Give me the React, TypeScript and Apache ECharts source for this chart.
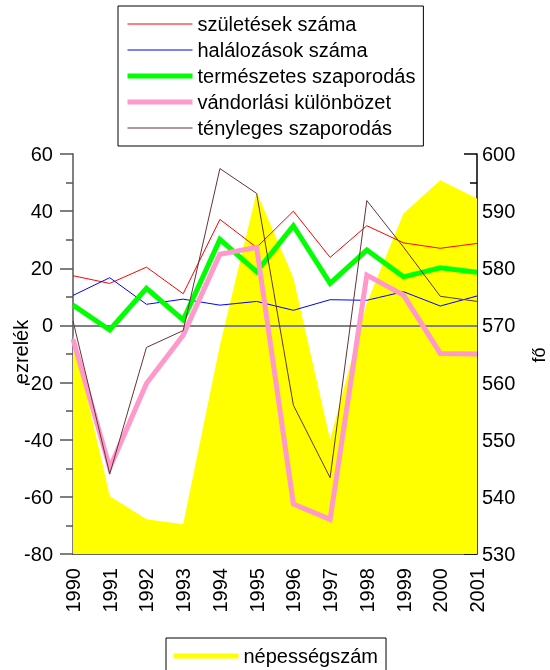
import React, { useEffect, useRef } from "react";
import * as echarts from "echarts";

const years = ["1990", "1991", "1992", "1993", "1994", "1995", "1996", "1997", "1998", "1999", "2000", "2001"];
const births = [17.4, 14.7, 20.4, 11.1, 37.1, 27.3, 40.0, 23.8, 34.9, 28.9, 27.0, 28.7];
const deaths = [10.5, 16.7, 7.4, 9.2, 7.1, 8.4, 5.3, 9.0, 8.8, 11.8, 6.8, 10.3];
const natural = [7.1, -1.6, 13.0, 1.9, 30.1, 18.8, 34.9, 14.7, 26.4, 17.0, 20.2, 18.6];
const migration = [-4.8, -49.9, -20.3, -3.4, 24.9, 27.3, -62.5, -67.9, 17.6, 10.6, -9.8, -10.0];
const actual = [1.6, -52.0, -7.7, -1.8, 54.9, 46.2, -27.9, -53.3, 43.7, 27.4, 10.2, 8.4];
const population = [568.3, 540.1, 536.1, 535.2, 566.5, 593.3, 578.3, 550.0, 573.9, 589.6, 595.4, 592.2];

const leftTicks = { min: -80, max: 60, interval: 20 };
const rightTicks = { min: 530, max: 600, interval: 10 };

const FONT = "'Liberation Sans', Arial, sans-serif";

export default function App() {
  const ref = useRef<HTMLDivElement>(null);
  useEffect(() => {
    const chart = echarts.init(ref.current!, null, { renderer: "svg" });
    const lineSeries = (name: string, data: number[], color: string, width: number) => ({
      name,
      type: "line",
      data,
      yAxisIndex: 0,
      symbol: "none",
      z: 3,
      lineStyle: { color, width, join: "miter" },
      itemStyle: { color },
    });
    const hiddenSymbol = { opacity: 0, borderWidth: 0 };
    const option: any = {
      animation: false,
      textStyle: { fontFamily: FONT, color: "#000" },
      grid: { left: 73, right: 73, top: 154, bottom: 116 },
      legend: [
        {
          orient: "vertical",
          left: 118,
          top: 6,
          itemWidth: 65,
          itemHeight: 14,
          itemGap: 6,
          padding: [8, 8, 8, 7],
          borderColor: "#000",
          borderWidth: 1,
          borderRadius: 0,
          itemStyle: hiddenSymbol,
          textStyle: { fontSize: 20, color: "#000", fontFamily: FONT },
          data: [
            { name: "születések száma", lineStyle: { width: 1 }, itemStyle: hiddenSymbol },
            { name: "halálozások száma", lineStyle: { width: 1 }, itemStyle: hiddenSymbol },
            { name: "természetes szaporodás", lineStyle: { width: 5 }, itemStyle: hiddenSymbol },
            { name: "vándorlási különbözet", lineStyle: { width: 5 }, itemStyle: hiddenSymbol },
            { name: "tényleges szaporodás", lineStyle: { width: 1 }, itemStyle: hiddenSymbol },
          ],
        },
        {
          orient: "horizontal",
          left: 166,
          top: 638,
          itemWidth: 65,
          itemHeight: 14,
          padding: [8, 8, 8, 5],
          borderColor: "#000",
          borderWidth: 1,
          borderRadius: 0,
          itemStyle: hiddenSymbol,
          textStyle: { fontSize: 20, color: "#000", fontFamily: FONT },
          data: [
            {
              name: "népességszám",
              lineStyle: { width: 5, color: "#ffff00", opacity: 1 },
              itemStyle: hiddenSymbol,
            },
          ],
        },
      ],
      xAxis: {
        type: "category",
        data: years,
        boundaryGap: false,
        axisLine: { onZero: false, lineStyle: { color: "#333", width: 1.5 } },
        axisTick: { show: false },
        axisLabel: { rotate: 90, fontSize: 20, color: "#000", margin: 14, fontFamily: FONT },
        splitLine: { show: false },
      },
      yAxis: [
        {
          type: "value",
          position: "left",
          min: leftTicks.min,
          max: leftTicks.max,
          interval: leftTicks.interval,
          axisLine: { show: true, lineStyle: { color: "#808080", width: 2 } },
          axisTick: { show: true, length: 13, lineStyle: { color: "#555", width: 1.5 } },
          minorTick: { show: true, splitNumber: 2, length: 7, lineStyle: { color: "#555", width: 1.5 } },
          axisLabel: { fontSize: 20, color: "#000", margin: 20, fontFamily: FONT },
          splitLine: { show: false },
        },
        {
          type: "value",
          position: "right",
          min: rightTicks.min,
          max: rightTicks.max,
          interval: rightTicks.interval,
          axisLine: { show: true, lineStyle: { color: "#000", width: 1.5 } },
          axisTick: { show: true, inside: true, length: 13, lineStyle: { color: "#000", width: 1.5 } },
          minorTick: { show: true, splitNumber: 2, length: 7, lineStyle: { color: "#000", width: 1.5 } },
          axisLabel: { fontSize: 20, color: "#000", margin: 5, fontFamily: FONT },
          splitLine: { show: false },
        },
      ],
      graphic: [
        {
          type: "text",
          x: 21,
          y: 352,
          rotation: Math.PI / 2,
          style: { text: "ezrelék", font: `20px ${FONT}`, fill: "#000", align: "center", verticalAlign: "middle" },
        },
        {
          type: "text",
          x: 539,
          y: 355,
          rotation: Math.PI / 2,
          style: { text: "fő", font: `18px ${FONT}`, fill: "#000", align: "center", verticalAlign: "middle" },
        },
      ],
      series: [
        {
          name: "népességszám",
          type: "line",
          yAxisIndex: 1,
          data: population,
          symbol: "none",
          z: 1,
          lineStyle: { width: 0, color: "#ffff00" },
          itemStyle: { color: "#ffff00" },
          areaStyle: { color: "#ffff00", opacity: 1, origin: "start" },
        },
        {
          ...lineSeries("születések száma", births, "#ff0000", 1),
          markLine: {
            silent: true,
            z: 2,
            symbol: "none",
            label: { show: false },
            lineStyle: { color: "#808080", width: 2, type: "solid" },
            data: [{ yAxis: 0 }],
          },
        },
        lineSeries("halálozások száma", deaths, "#0000ff", 1),
        lineSeries("természetes szaporodás", natural, "#00ff00", 5),
        lineSeries("vándorlási különbözet", migration, "#ff99cc", 5),
        lineSeries("tényleges szaporodás", actual, "#663333", 1),
      ],
    };
    chart.setOption(option);
    return () => chart.dispose();
  }, []);
  return <div ref={ref} style={{ position: "fixed", left: 0, top: 0, width: 550, height: 670 }} />;
}
